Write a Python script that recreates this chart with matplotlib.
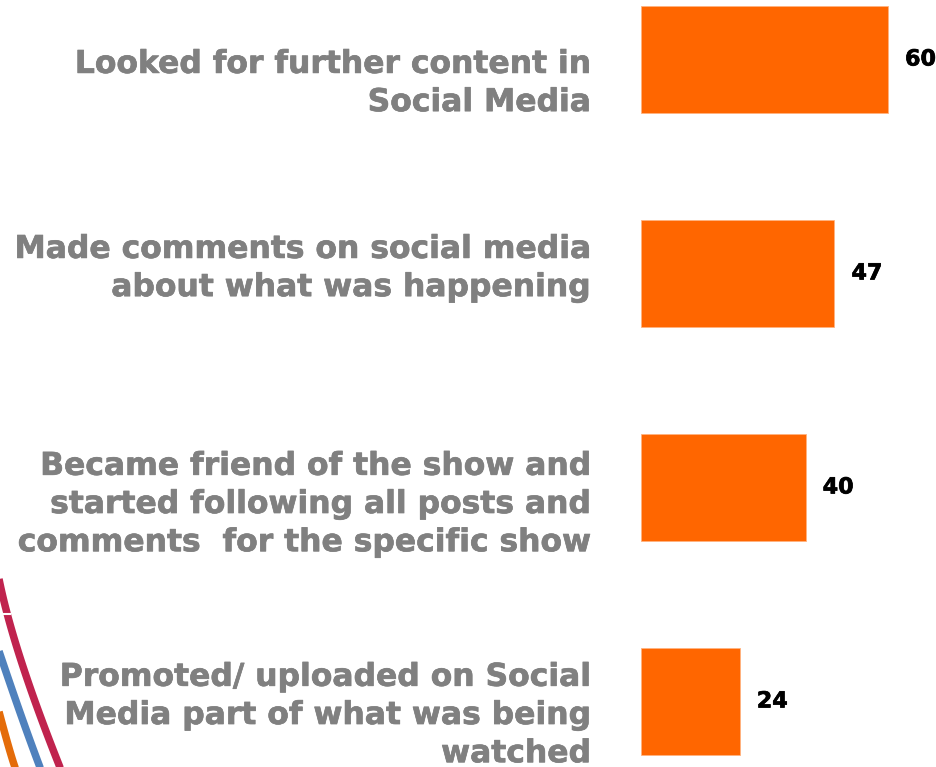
import matplotlib
matplotlib.use("Agg")
import matplotlib.pyplot as plt
import matplotlib.patheffects as pe
from matplotlib.lines import Line2D
import numpy as np

categories = [
    "Looked for further content in\nSocial Media",
    "Made comments on social media\nabout what was happening",
    "Became friend of the show and\nstarted following all posts and\ncomments  for the specific show",
    "Promoted/ uploaded on Social\nMedia part of what was being\nwatched",
]
values = [60, 47, 40, 24]

W, H = 936, 767
fig = plt.figure(figsize=(W / 100, H / 100), dpi=100)
fig.patch.set_facecolor("white")

# bars live in a right-hand axes, no frame or ticks
ax = fig.add_axes([641 / W, 0, (W - 641) / W, 1])
y = np.arange(len(values))
ax.barh(y, values, height=0.5, color="#ff6600", edgecolor="#ffb380", linewidth=0.6)
ax.set_xlim(0, (W - 641) / 4.117)
ax.set_ylim(3.306, -0.278)
ax.axis("off")

px = 72 / 100  # pixels -> points
label_shift = [24, -5, 17, 14]  # px, nudges the category text down
for i, (cat, v) in enumerate(zip(categories, values)):
    ax.annotate(str(v), xy=(v, i), xytext=(17 * px, 0), textcoords="offset points",
                ha="left", va="center", fontsize=16, fontweight="bold",
                color="black", annotation_clip=False,
                path_effects=[pe.withStroke(linewidth=0.5, foreground="black")])
    ax.annotate(cat, xy=(0, i), xytext=(-50 * px, -label_shift[i] * px),
                textcoords="offset points", ha="right", va="center",
                multialignment="right", fontsize=22.6, fontweight="bold",
                color="#808080", linespacing=1.4, annotation_clip=False,
                path_effects=[pe.withStroke(linewidth=0.5, foreground="#808080")])

# decorative swooshes in the lower-left corner (pixel coords, y from top)
def swoosh(pts, color, lw):
    xs = np.array([p[0] for p in pts], float)
    ys = np.array([p[1] for p in pts], float)
    t = np.linspace(0, 1, len(xs))
    tt = np.linspace(0, 1, 60)
    cx = np.polyval(np.polyfit(t, xs, 2), tt)
    cy = np.polyval(np.polyfit(t, ys, 2), tt)
    fig.add_artist(Line2D(cx / W, 1 - cy / H, color=color, lw=lw,
                          solid_capstyle="butt", transform=fig.transFigure))

swoosh([(-2, 570), (6, 614), (35, 700), (61, 770)], "#c0234e", 5.4)
swoosh([(-2, 648), (12, 690), (30, 740), (41, 770)], "#4f81bd", 5.4)
swoosh([(-2, 708), (9, 748), (16, 770)], "#e46c0a", 5.4)
fig.add_artist(Line2D([0, 10 / W], [1 - 614 / H] * 2, color="white", lw=1.5,
                      transform=fig.transFigure))

fig.savefig("out.png", dpi=100, facecolor="white")
